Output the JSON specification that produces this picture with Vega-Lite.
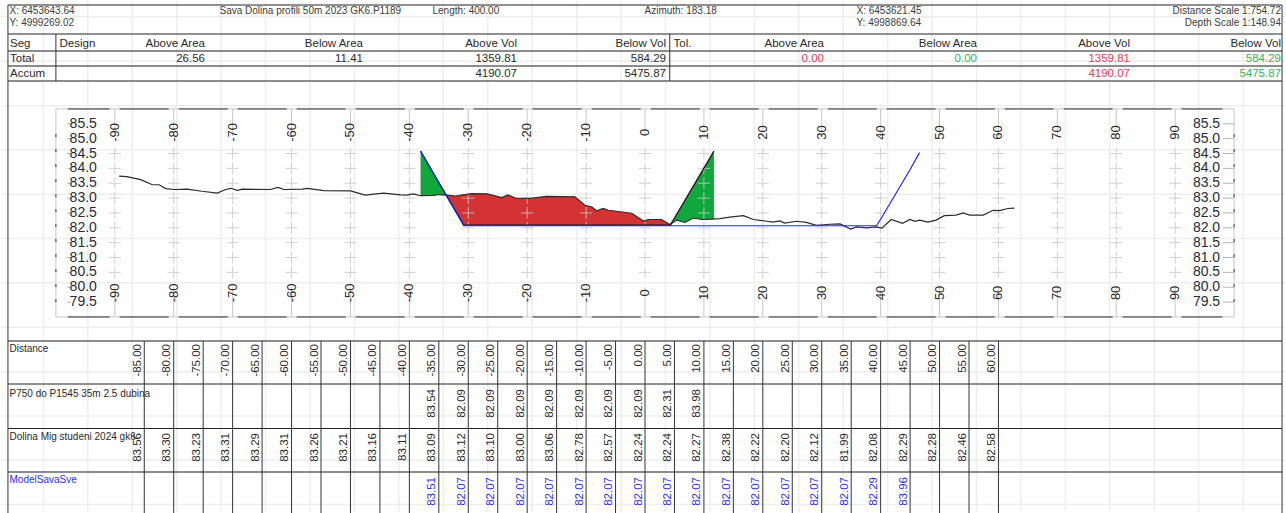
{"$schema":"https://vega.github.io/schema/vega-lite/v6.json","width":1286,"height":513,"autosize":{"type":"fit","contains":"padding"},"padding":0,"background":"white",
"config":{"view":{"stroke":null},"axis":{"disable":true},"legend":{"disable":true},"text":{"font":"Liberation Sans"}},
"resolve":{"scale":{"x":"independent","y":"independent","color":"independent"}},
"datasets":{
"gridX":[{"d":-102.12},{"d":-94.58},{"d":-87.03},{"d":-79.49},{"d":-71.95},{"d":-64.41},{"d":-56.86},{"d":-49.32},{"d":-41.78},{"d":-34.24},{"d":-26.69},{"d":-19.15},{"d":-11.61},{"d":-4.07},{"d":3.47},{"d":11.02},{"d":18.56},{"d":26.10},{"d":33.64},{"d":41.19},{"d":48.73},{"d":56.27},{"d":63.81},{"d":71.36},{"d":78.90},{"d":86.44},{"d":93.98},{"d":101.53}],
"gridY":[{"v":89.10},{"v":87.61},{"v":86.11},{"v":84.62},{"v":83.13},{"v":81.64},{"v":80.15},{"v":78.65},{"v":77.16},{"v":75.67},{"v":74.18},{"v":72.69}],
"box":[{"a":-100,"b":100,"u":86,"w":86},{"a":-100,"b":100,"u":79,"w":79},{"a":-100,"b":-100,"u":79,"w":86},{"a":100,"b":100,"u":79,"w":86}],
"edgesH":[{"a":-98,"b":98,"u":86},{"a":-98,"b":98,"u":79}],
"edgesV":[{"a":-100,"u":79.5,"w":85.27},{"a":100,"u":79.5,"w":85.27}],
"fills":[
{"part":"a","kind":"green","d":-38.1,"hi":84.58,"lo":83.09},{"part":"a","kind":"green","d":-35.9,"hi":83.83,"lo":83.09},{"part":"a","kind":"green","d":-35,"hi":83.52,"lo":83.12},{"part":"a","kind":"green","d":-33.75,"hi":83.10,"lo":83.10},
{"part":"b","kind":"red","d":-33.75,"hi":83.10,"lo":83.10},{"part":"b","kind":"red","d":-32.2,"hi":83.07,"lo":82.56},{"part":"b","kind":"red","d":-30.76,"hi":83.13,"lo":82.07},{"part":"b","kind":"red","d":-29.4,"hi":83.15,"lo":82.07},{"part":"b","kind":"red","d":-26.8,"hi":83.14,"lo":82.07},{"part":"b","kind":"red","d":-24.3,"hi":83.02,"lo":82.07},{"part":"b","kind":"red","d":-23.3,"hi":83.11,"lo":82.07},{"part":"b","kind":"red","d":-22,"hi":83.00,"lo":82.07},{"part":"b","kind":"red","d":-19.5,"hi":82.99,"lo":82.07},{"part":"b","kind":"red","d":-16.7,"hi":83.06,"lo":82.07},{"part":"b","kind":"red","d":-11.9,"hi":83.04,"lo":82.07},{"part":"b","kind":"red","d":-10.2,"hi":82.76,"lo":82.07},{"part":"b","kind":"red","d":-9,"hi":82.70,"lo":82.07},{"part":"b","kind":"red","d":-8.2,"hi":82.57,"lo":82.07},{"part":"b","kind":"red","d":-7.1,"hi":82.65,"lo":82.07},{"part":"b","kind":"red","d":-6.2,"hi":82.59,"lo":82.07},{"part":"b","kind":"red","d":-4.2,"hi":82.54,"lo":82.07},{"part":"b","kind":"red","d":-2.26,"hi":82.49,"lo":82.07},{"part":"b","kind":"red","d":-0.28,"hi":82.23,"lo":82.07},{"part":"b","kind":"red","d":0.57,"hi":82.28,"lo":82.07},{"part":"b","kind":"red","d":2.8,"hi":82.28,"lo":82.07},{"part":"b","kind":"red","d":4.24,"hi":82.11,"lo":82.07},{"part":"b","kind":"red","d":4.6,"hi":82.09,"lo":82.07},
{"part":"c","kind":"green","d":4.7,"hi":82.2,"lo":82.2},{"part":"c","kind":"green","d":5.4,"hi":82.44,"lo":82.26},{"part":"c","kind":"green","d":6.8,"hi":82.92,"lo":82.18},{"part":"c","kind":"green","d":8.2,"hi":83.39,"lo":82.33},{"part":"c","kind":"green","d":9.6,"hi":83.87,"lo":82.28},{"part":"c","kind":"green","d":11.3,"hi":84.44,"lo":82.29},{"part":"c","kind":"green","d":11.7,"hi":84.58,"lo":82.29}],
"crosses":[
{"d":-90,"v":84.5},{"d":-90,"v":84},{"d":-90,"v":83.5},{"d":-90,"v":83},{"d":-90,"v":82.5},{"d":-90,"v":82},{"d":-90,"v":81.5},{"d":-90,"v":81},{"d":-90,"v":80.5},
{"d":-80,"v":84.5},{"d":-80,"v":84},{"d":-80,"v":83.5},{"d":-80,"v":83},{"d":-80,"v":82.5},{"d":-80,"v":82},{"d":-80,"v":81.5},{"d":-80,"v":81},{"d":-80,"v":80.5},
{"d":-70,"v":84.5},{"d":-70,"v":84},{"d":-70,"v":83.5},{"d":-70,"v":83},{"d":-70,"v":82.5},{"d":-70,"v":82},{"d":-70,"v":81.5},{"d":-70,"v":81},{"d":-70,"v":80.5},
{"d":-60,"v":84.5},{"d":-60,"v":84},{"d":-60,"v":83.5},{"d":-60,"v":83},{"d":-60,"v":82.5},{"d":-60,"v":82},{"d":-60,"v":81.5},{"d":-60,"v":81},{"d":-60,"v":80.5},
{"d":-50,"v":84.5},{"d":-50,"v":84},{"d":-50,"v":83.5},{"d":-50,"v":83},{"d":-50,"v":82.5},{"d":-50,"v":82},{"d":-50,"v":81.5},{"d":-50,"v":81},{"d":-50,"v":80.5},
{"d":-40,"v":84.5},{"d":-40,"v":84},{"d":-40,"v":83.5},{"d":-40,"v":83},{"d":-40,"v":82.5},{"d":-40,"v":82},{"d":-40,"v":81.5},{"d":-40,"v":81},{"d":-40,"v":80.5},
{"d":-30,"v":84.5},{"d":-30,"v":84},{"d":-30,"v":83.5},{"d":-30,"v":83},{"d":-30,"v":82.5},{"d":-30,"v":82},{"d":-30,"v":81.5},{"d":-30,"v":81},{"d":-30,"v":80.5},
{"d":-20,"v":84.5},{"d":-20,"v":84},{"d":-20,"v":83.5},{"d":-20,"v":83},{"d":-20,"v":82.5},{"d":-20,"v":82},{"d":-20,"v":81.5},{"d":-20,"v":81},{"d":-20,"v":80.5},
{"d":-10,"v":84.5},{"d":-10,"v":84},{"d":-10,"v":83.5},{"d":-10,"v":83},{"d":-10,"v":82.5},{"d":-10,"v":82},{"d":-10,"v":81.5},{"d":-10,"v":81},{"d":-10,"v":80.5},
{"d":0,"v":84.5},{"d":0,"v":84},{"d":0,"v":83.5},{"d":0,"v":83},{"d":0,"v":82.5},{"d":0,"v":82},{"d":0,"v":81.5},{"d":0,"v":81},{"d":0,"v":80.5},
{"d":10,"v":84.5},{"d":10,"v":84},{"d":10,"v":83.5},{"d":10,"v":83},{"d":10,"v":82.5},{"d":10,"v":82},{"d":10,"v":81.5},{"d":10,"v":81},{"d":10,"v":80.5},
{"d":20,"v":84.5},{"d":20,"v":84},{"d":20,"v":83.5},{"d":20,"v":83},{"d":20,"v":82.5},{"d":20,"v":82},{"d":20,"v":81.5},{"d":20,"v":81},{"d":20,"v":80.5},
{"d":30,"v":84.5},{"d":30,"v":84},{"d":30,"v":83.5},{"d":30,"v":83},{"d":30,"v":82.5},{"d":30,"v":82},{"d":30,"v":81.5},{"d":30,"v":81},{"d":30,"v":80.5},
{"d":40,"v":84.5},{"d":40,"v":84},{"d":40,"v":83.5},{"d":40,"v":83},{"d":40,"v":82.5},{"d":40,"v":82},{"d":40,"v":81.5},{"d":40,"v":81},{"d":40,"v":80.5},
{"d":50,"v":84.5},{"d":50,"v":84},{"d":50,"v":83.5},{"d":50,"v":83},{"d":50,"v":82.5},{"d":50,"v":82},{"d":50,"v":81.5},{"d":50,"v":81},{"d":50,"v":80.5},
{"d":60,"v":84.5},{"d":60,"v":84},{"d":60,"v":83.5},{"d":60,"v":83},{"d":60,"v":82.5},{"d":60,"v":82},{"d":60,"v":81.5},{"d":60,"v":81},{"d":60,"v":80.5},
{"d":70,"v":84.5},{"d":70,"v":84},{"d":70,"v":83.5},{"d":70,"v":83},{"d":70,"v":82.5},{"d":70,"v":82},{"d":70,"v":81.5},{"d":70,"v":81},{"d":70,"v":80.5},
{"d":80,"v":84.5},{"d":80,"v":84},{"d":80,"v":83.5},{"d":80,"v":83},{"d":80,"v":82.5},{"d":80,"v":82},{"d":80,"v":81.5},{"d":80,"v":81},{"d":80,"v":80.5},
{"d":90,"v":84.5},{"d":90,"v":84},{"d":90,"v":83.5},{"d":90,"v":83},{"d":90,"v":82.5},{"d":90,"v":82},{"d":90,"v":81.5},{"d":90,"v":81},{"d":90,"v":80.5}],
"xTicks":[{"d":-90,"t":"-90"},{"d":-80,"t":"-80"},{"d":-70,"t":"-70"},{"d":-60,"t":"-60"},{"d":-50,"t":"-50"},{"d":-40,"t":"-40"},{"d":-30,"t":"-30"},{"d":-20,"t":"-20"},{"d":-10,"t":"-10"},{"d":0,"t":"0"},{"d":10,"t":"10"},{"d":20,"t":"20"},{"d":30,"t":"30"},{"d":40,"t":"40"},{"d":50,"t":"50"},{"d":60,"t":"60"},{"d":70,"t":"70"},{"d":80,"t":"80"},{"d":90,"t":"90"}],
"yTicks":[{"v":85.5},{"v":85},{"v":84.5},{"v":84},{"v":83.5},{"v":83},{"v":82.5},{"v":82},{"v":81.5},{"v":81},{"v":80.5},{"v":80},{"v":79.5}],
"curves":[
{"s":"terrain","d":-89.27,"v":83.74},{"s":"terrain","d":-87.96,"v":83.72},{"s":"terrain","d":-85.6,"v":83.62},{"s":"terrain","d":-83.62,"v":83.45},{"s":"terrain","d":-82.48,"v":83.45},{"s":"terrain","d":-81.36,"v":83.32},{"s":"terrain","d":-79.94,"v":83.29},{"s":"terrain","d":-77.7,"v":83.30},{"s":"terrain","d":-75.2,"v":83.23},{"s":"terrain","d":-72.6,"v":83.17},{"s":"terrain","d":-71.2,"v":83.29},{"s":"terrain","d":-70.3,"v":83.33},{"s":"terrain","d":-69.2,"v":83.26},{"s":"terrain","d":-68.3,"v":83.30},{"s":"terrain","d":-63.6,"v":83.29},{"s":"terrain","d":-62.3,"v":83.36},{"s":"terrain","d":-61.3,"v":83.29},{"s":"terrain","d":-58.2,"v":83.30},{"s":"terrain","d":-57.3,"v":83.33},{"s":"terrain","d":-54.5,"v":83.25},{"s":"terrain","d":-50,"v":83.24},{"s":"terrain","d":-47.5,"v":83.10},{"s":"terrain","d":-44.4,"v":83.17},{"s":"terrain","d":-41.5,"v":83.11},{"s":"terrain","d":-40.5,"v":83.10},{"s":"terrain","d":-39.3,"v":83.14},{"s":"terrain","d":-38.1,"v":83.08},{"s":"terrain","d":-35.9,"v":83.09},{"s":"terrain","d":-35,"v":83.12},{"s":"terrain","d":-33.6,"v":83.10},{"s":"terrain","d":-32.2,"v":83.07},{"s":"terrain","d":-29.4,"v":83.15},{"s":"terrain","d":-26.8,"v":83.14},{"s":"terrain","d":-24.3,"v":83.02},{"s":"terrain","d":-23.3,"v":83.11},{"s":"terrain","d":-22,"v":83.00},{"s":"terrain","d":-19.5,"v":82.99},{"s":"terrain","d":-16.7,"v":83.06},{"s":"terrain","d":-11.9,"v":83.04},{"s":"terrain","d":-10.2,"v":82.76},{"s":"terrain","d":-9,"v":82.70},{"s":"terrain","d":-8.2,"v":82.57},{"s":"terrain","d":-7.1,"v":82.65},{"s":"terrain","d":-6.2,"v":82.59},{"s":"terrain","d":-4.2,"v":82.54},{"s":"terrain","d":-2.26,"v":82.49},{"s":"terrain","d":-0.28,"v":82.23},{"s":"terrain","d":0.57,"v":82.28},{"s":"terrain","d":2.8,"v":82.28},{"s":"terrain","d":4.24,"v":82.11},{"s":"terrain","d":5.4,"v":82.26},{"s":"terrain","d":6.8,"v":82.18},{"s":"terrain","d":8.2,"v":82.33},{"s":"terrain","d":9.6,"v":82.28},{"s":"terrain","d":11.3,"v":82.29},{"s":"terrain","d":12.7,"v":82.31},{"s":"terrain","d":14.4,"v":82.36},{"s":"terrain","d":16.7,"v":82.41},{"s":"terrain","d":18.4,"v":82.28},{"s":"terrain","d":20.4,"v":82.23},{"s":"terrain","d":21.7,"v":82.19},{"s":"terrain","d":22.9,"v":82.23},{"s":"terrain","d":23.7,"v":82.16},{"s":"terrain","d":25.7,"v":82.22},{"s":"terrain","d":27.4,"v":82.18},{"s":"terrain","d":29.1,"v":82.08},{"s":"terrain","d":31.4,"v":82.12},{"s":"terrain","d":33.1,"v":82.13},{"s":"terrain","d":34.9,"v":81.96},{"s":"terrain","d":35.9,"v":82.03},{"s":"terrain","d":37.6,"v":82.00},{"s":"terrain","d":39.3,"v":82.03},{"s":"terrain","d":40.2,"v":81.99},{"s":"terrain","d":41.8,"v":82.28},{"s":"terrain","d":43.7,"v":82.15},{"s":"terrain","d":45,"v":82.28},{"s":"terrain","d":45.8,"v":82.22},{"s":"terrain","d":46.6,"v":82.26},{"s":"terrain","d":48,"v":82.19},{"s":"terrain","d":49.4,"v":82.26},{"s":"terrain","d":50.8,"v":82.41},{"s":"terrain","d":52.8,"v":82.43},{"s":"terrain","d":54,"v":82.50},{"s":"terrain","d":55.1,"v":82.43},{"s":"terrain","d":57.4,"v":82.43},{"s":"terrain","d":59.1,"v":82.59},{"s":"terrain","d":60.2,"v":82.58},{"s":"terrain","d":61.6,"v":82.65},{"s":"terrain","d":62.7,"v":82.66},
{"s":"design","d":-38.1,"v":84.58},{"s":"design","d":-30.76,"v":82.09},{"s":"design","d":4.3,"v":82.09},{"s":"design","d":11.7,"v":84.58},
{"s":"model","d":-38.1,"v":84.58},{"s":"model","d":-35,"v":83.51},{"s":"model","d":-30.76,"v":82.07},{"s":"model","d":39.3,"v":82.07},{"s":"model","d":40,"v":82.29},{"s":"model","d":45,"v":83.96},{"s":"model","d":46.6,"v":84.53}],
"framesDark":[{"level":1,"a":-108.14,"b":108.14},{"level":2,"a":-108.14,"b":108.14},{"level":7,"a":-108.14,"b":108.14},{"level":8,"a":-108.14,"b":108.14}],
"framesGrey":[{"level":3,"a":-108.14,"b":108.14},{"level":4,"a":-108.14,"b":108.14},{"level":5,"a":-108.14,"b":108.14},{"level":6,"a":-108.14,"b":108.14},{"level":9,"a":-108.14,"b":108.14}],
"framesV":[{"d":-108.14,"from":1,"to":10},{"d":108.14,"from":1,"to":10},{"d":-100,"from":2,"to":5},{"d":4.2,"from":2,"to":5},
{"d":-85,"from":6,"to":10},{"d":-80,"from":6,"to":10},{"d":-75,"from":6,"to":10},{"d":-70,"from":6,"to":10},{"d":-65,"from":6,"to":10},{"d":-60,"from":6,"to":10},{"d":-55,"from":6,"to":10},{"d":-50,"from":6,"to":10},{"d":-45,"from":6,"to":10},{"d":-40,"from":6,"to":10},{"d":-35,"from":6,"to":10},{"d":-30,"from":6,"to":10},{"d":-25,"from":6,"to":10},{"d":-20,"from":6,"to":10},{"d":-15,"from":6,"to":10},{"d":-10,"from":6,"to":10},{"d":-5,"from":6,"to":10},{"d":0,"from":6,"to":10},{"d":5,"from":6,"to":10},{"d":10,"from":6,"to":10},{"d":15,"from":6,"to":10},{"d":20,"from":6,"to":10},{"d":25,"from":6,"to":10},{"d":30,"from":6,"to":10},{"d":35,"from":6,"to":10},{"d":40,"from":6,"to":10},{"d":45,"from":6,"to":10},{"d":50,"from":6,"to":10},{"d":55,"from":6,"to":10},{"d":60,"from":6,"to":10}],
"strip":[{"col":1,"row":1,"t":"X: 6453643.64"},{"col":1,"row":2,"t":"Y: 4999269.02"},{"col":2,"row":1,"t":"Sava Dolina profili 50m 2023 GK6.P1189"},{"col":3,"row":1,"t":"Length: 400.00"},{"col":4,"row":1,"t":"Azimuth: 183.18"},{"col":5,"row":1,"t":"X: 6453621.45"},{"col":5,"row":2,"t":"Y: 4998869.64"}],
"stripRight":[{"row":1,"t":"Distance Scale 1:754.72"},{"row":2,"t":"Depth Scale 1:148.94"}],
"tableLeft":[{"col":1,"row":1,"t":"Seg"},{"col":2,"row":1,"t":"Design"},{"col":3,"row":1,"t":"Tol."},{"col":1,"row":2,"t":"Total"},{"col":1,"row":3,"t":"Accum"}],
"tableRight":[{"col":1,"row":1,"t":"Above Area","tone":"ink"},{"col":2,"row":1,"t":"Below Area","tone":"ink"},{"col":3,"row":1,"t":"Above Vol","tone":"ink"},{"col":4,"row":1,"t":"Below Vol","tone":"ink"},{"col":5,"row":1,"t":"Above Area","tone":"ink"},{"col":6,"row":1,"t":"Below Area","tone":"ink"},{"col":7,"row":1,"t":"Above Vol","tone":"ink"},{"col":8,"row":1,"t":"Below Vol","tone":"ink"},
{"col":1,"row":2,"t":"26.56","tone":"ink"},{"col":2,"row":2,"t":"11.41","tone":"ink"},{"col":3,"row":2,"t":"1359.81","tone":"ink"},{"col":4,"row":2,"t":"584.29","tone":"ink"},{"col":5,"row":2,"t":"0.00","tone":"red"},{"col":6,"row":2,"t":"0.00","tone":"green"},{"col":7,"row":2,"t":"1359.81","tone":"red"},{"col":8,"row":2,"t":"584.29","tone":"green"},
{"col":3,"row":3,"t":"4190.07","tone":"ink"},{"col":4,"row":3,"t":"5475.87","tone":"ink"},{"col":7,"row":3,"t":"4190.07","tone":"red"},{"col":8,"row":3,"t":"5475.87","tone":"green"}],
"rowNames":[{"row":1,"t":"Distance","tone":"ink"},{"row":2,"t":"P750 do P1545 35m 2.5 dubina","tone":"ink"},{"row":3,"t":"Dolina Mig studeni 2024 gk6","tone":"ink"},{"row":4,"t":"ModelSavaSve","tone":"blue"}],
"cells":[
{"d":-85,"row":1,"t":"-85.00","tone":"ink"},{"d":-80,"row":1,"t":"-80.00","tone":"ink"},{"d":-75,"row":1,"t":"-75.00","tone":"ink"},{"d":-70,"row":1,"t":"-70.00","tone":"ink"},{"d":-65,"row":1,"t":"-65.00","tone":"ink"},{"d":-60,"row":1,"t":"-60.00","tone":"ink"},{"d":-55,"row":1,"t":"-55.00","tone":"ink"},{"d":-50,"row":1,"t":"-50.00","tone":"ink"},{"d":-45,"row":1,"t":"-45.00","tone":"ink"},{"d":-40,"row":1,"t":"-40.00","tone":"ink"},{"d":-35,"row":1,"t":"-35.00","tone":"ink"},{"d":-30,"row":1,"t":"-30.00","tone":"ink"},{"d":-25,"row":1,"t":"-25.00","tone":"ink"},{"d":-20,"row":1,"t":"-20.00","tone":"ink"},{"d":-15,"row":1,"t":"-15.00","tone":"ink"},{"d":-10,"row":1,"t":"-10.00","tone":"ink"},{"d":-5,"row":1,"t":"-5.00","tone":"ink"},{"d":0,"row":1,"t":"0.00","tone":"ink"},{"d":5,"row":1,"t":"5.00","tone":"ink"},{"d":10,"row":1,"t":"10.00","tone":"ink"},{"d":15,"row":1,"t":"15.00","tone":"ink"},{"d":20,"row":1,"t":"20.00","tone":"ink"},{"d":25,"row":1,"t":"25.00","tone":"ink"},{"d":30,"row":1,"t":"30.00","tone":"ink"},{"d":35,"row":1,"t":"35.00","tone":"ink"},{"d":40,"row":1,"t":"40.00","tone":"ink"},{"d":45,"row":1,"t":"45.00","tone":"ink"},{"d":50,"row":1,"t":"50.00","tone":"ink"},{"d":55,"row":1,"t":"55.00","tone":"ink"},{"d":60,"row":1,"t":"60.00","tone":"ink"},
{"d":-35,"row":2,"t":"83.54","tone":"ink"},{"d":-30,"row":2,"t":"82.09","tone":"ink"},{"d":-25,"row":2,"t":"82.09","tone":"ink"},{"d":-20,"row":2,"t":"82.09","tone":"ink"},{"d":-15,"row":2,"t":"82.09","tone":"ink"},{"d":-10,"row":2,"t":"82.09","tone":"ink"},{"d":-5,"row":2,"t":"82.09","tone":"ink"},{"d":0,"row":2,"t":"82.09","tone":"ink"},{"d":5,"row":2,"t":"82.31","tone":"ink"},{"d":10,"row":2,"t":"83.98","tone":"ink"},
{"d":-85,"row":3,"t":"83.56","tone":"ink"},{"d":-80,"row":3,"t":"83.30","tone":"ink"},{"d":-75,"row":3,"t":"83.23","tone":"ink"},{"d":-70,"row":3,"t":"83.31","tone":"ink"},{"d":-65,"row":3,"t":"83.29","tone":"ink"},{"d":-60,"row":3,"t":"83.31","tone":"ink"},{"d":-55,"row":3,"t":"83.26","tone":"ink"},{"d":-50,"row":3,"t":"83.21","tone":"ink"},{"d":-45,"row":3,"t":"83.16","tone":"ink"},{"d":-40,"row":3,"t":"83.11","tone":"ink"},{"d":-35,"row":3,"t":"83.09","tone":"ink"},{"d":-30,"row":3,"t":"83.12","tone":"ink"},{"d":-25,"row":3,"t":"83.10","tone":"ink"},{"d":-20,"row":3,"t":"83.00","tone":"ink"},{"d":-15,"row":3,"t":"83.06","tone":"ink"},{"d":-10,"row":3,"t":"82.78","tone":"ink"},{"d":-5,"row":3,"t":"82.57","tone":"ink"},{"d":0,"row":3,"t":"82.24","tone":"ink"},{"d":5,"row":3,"t":"82.24","tone":"ink"},{"d":10,"row":3,"t":"82.27","tone":"ink"},{"d":15,"row":3,"t":"82.38","tone":"ink"},{"d":20,"row":3,"t":"82.22","tone":"ink"},{"d":25,"row":3,"t":"82.20","tone":"ink"},{"d":30,"row":3,"t":"82.12","tone":"ink"},{"d":35,"row":3,"t":"81.99","tone":"ink"},{"d":40,"row":3,"t":"82.08","tone":"ink"},{"d":45,"row":3,"t":"82.29","tone":"ink"},{"d":50,"row":3,"t":"82.28","tone":"ink"},{"d":55,"row":3,"t":"82.46","tone":"ink"},{"d":60,"row":3,"t":"82.58","tone":"ink"},
{"d":-35,"row":4,"t":"83.51","tone":"blue"},{"d":-30,"row":4,"t":"82.07","tone":"blue"},{"d":-25,"row":4,"t":"82.07","tone":"blue"},{"d":-20,"row":4,"t":"82.07","tone":"blue"},{"d":-15,"row":4,"t":"82.07","tone":"blue"},{"d":-10,"row":4,"t":"82.07","tone":"blue"},{"d":-5,"row":4,"t":"82.07","tone":"blue"},{"d":0,"row":4,"t":"82.07","tone":"blue"},{"d":5,"row":4,"t":"82.07","tone":"blue"},{"d":10,"row":4,"t":"82.07","tone":"blue"},{"d":15,"row":4,"t":"82.07","tone":"blue"},{"d":20,"row":4,"t":"82.07","tone":"blue"},{"d":25,"row":4,"t":"82.07","tone":"blue"},{"d":30,"row":4,"t":"82.07","tone":"blue"},{"d":35,"row":4,"t":"82.07","tone":"blue"},{"d":40,"row":4,"t":"82.29","tone":"blue"},{"d":45,"row":4,"t":"83.96","tone":"blue"}]
},
"layer":[
{"data":{"name":"gridX"},"mark":{"type":"rule","color":"#eeeeee","strokeWidth":1.5},"encoding":{"x":{"field":"d","type":"quantitative","scale":{"domain":[-109.32,108.64],"nice":false,"zero":false}}}},
{"data":{"name":"gridY"},"mark":{"type":"rule","color":"#eeeeee","strokeWidth":1.5},"encoding":{"y":{"field":"v","type":"quantitative","scale":{"domain":[72.436,89.633],"nice":false,"zero":false}}}},
{"data":{"name":"box"},"mark":{"type":"rule","color":"#c8c8c8","strokeWidth":1},"encoding":{"x":{"field":"a","type":"quantitative","scale":{"domain":[-109.32,108.64],"nice":false,"zero":false}},"x2":{"field":"b"},"y":{"field":"u","type":"quantitative","scale":{"domain":[72.436,89.633],"nice":false,"zero":false}},"y2":{"field":"w"}}},
{"data":{"name":"edgesH"},"mark":{"type":"rule","color":"#333333","strokeWidth":1,"strokeDash":[49,10],"strokeDashOffset":7},"encoding":{"x":{"field":"a","type":"quantitative","scale":{"domain":[-109.32,108.64],"nice":false,"zero":false}},"x2":{"field":"b"},"y":{"field":"u","type":"quantitative","scale":{"domain":[72.436,89.633],"nice":false,"zero":false}}}},
{"data":{"name":"edgesV"},"mark":{"type":"rule","color":"#333333","strokeWidth":1,"strokeDash":[3,12]},"encoding":{"x":{"field":"a","type":"quantitative","scale":{"domain":[-109.32,108.64],"nice":false,"zero":false}},"y":{"field":"u","type":"quantitative","scale":{"domain":[72.436,89.633],"nice":false,"zero":false}},"y2":{"field":"w"}}},
{"data":{"name":"fills"},"mark":{"type":"area","line":false},"encoding":{"x":{"field":"d","type":"quantitative","scale":{"domain":[-109.32,108.64],"nice":false,"zero":false}},"y":{"field":"hi","type":"quantitative","scale":{"domain":[72.436,89.633],"nice":false,"zero":false}},"y2":{"field":"lo"},"detail":{"field":"part"},"color":{"field":"kind","type":"nominal","scale":{"domain":["green","red"],"range":["#10a83c","#d43333"]}}}},
{"data":{"name":"crosses"},"mark":{"type":"point","shape":"M-1,0H1M0,-1V1","filled":false,"size":144,"strokeWidth":1,"color":"#c9c9c9","opacity":0.85},"encoding":{"x":{"field":"d","type":"quantitative","scale":{"domain":[-109.32,108.64],"nice":false,"zero":false}},"y":{"field":"v","type":"quantitative","scale":{"domain":[72.436,89.633],"nice":false,"zero":false}}}},
{"data":{"name":"xTicks"},"mark":{"type":"rule","color":"#c8c8c8","strokeWidth":1},"encoding":{"x":{"field":"d","type":"quantitative","scale":{"domain":[-109.32,108.64],"nice":false,"zero":false}},"y":{"datum":86,"type":"quantitative","scale":{"domain":[72.436,89.633],"nice":false,"zero":false}},"y2":{"datum":85.09}}},
{"data":{"name":"xTicks"},"mark":{"type":"rule","color":"#c8c8c8","strokeWidth":1},"encoding":{"x":{"field":"d","type":"quantitative","scale":{"domain":[-109.32,108.64],"nice":false,"zero":false}},"y":{"datum":79,"type":"quantitative","scale":{"domain":[72.436,89.633],"nice":false,"zero":false}},"y2":{"datum":80.0}}},
{"data":{"name":"xTicks"},"mark":{"type":"text","angle":270,"fontSize":13,"color":"#2a2a2a","align":"center","baseline":"middle"},"encoding":{"x":{"field":"d","type":"quantitative","scale":{"domain":[-109.32,108.64],"nice":false,"zero":false}},"y":{"datum":85.21,"type":"quantitative","scale":{"domain":[72.436,89.633],"nice":false,"zero":false}},"text":{"field":"t"}}},
{"data":{"name":"xTicks"},"mark":{"type":"text","angle":270,"fontSize":13,"color":"#2a2a2a","align":"center","baseline":"middle"},"encoding":{"x":{"field":"d","type":"quantitative","scale":{"domain":[-109.32,108.64],"nice":false,"zero":false}},"y":{"datum":79.81,"type":"quantitative","scale":{"domain":[72.436,89.633],"nice":false,"zero":false}},"text":{"field":"t"}}},
{"data":{"name":"yTicks"},"mark":{"type":"rule","color":"#b5b5b5","strokeWidth":1},"encoding":{"x":{"datum":-98.1,"type":"quantitative","scale":{"domain":[-109.32,108.64],"nice":false,"zero":false}},"x2":{"datum":-97.4},"y":{"field":"v","type":"quantitative","scale":{"domain":[72.436,89.633],"nice":false,"zero":false}}}},
{"data":{"name":"yTicks"},"mark":{"type":"rule","color":"#b5b5b5","strokeWidth":1},"encoding":{"x":{"datum":98.1,"type":"quantitative","scale":{"domain":[-109.32,108.64],"nice":false,"zero":false}},"x2":{"datum":100},"y":{"field":"v","type":"quantitative","scale":{"domain":[72.436,89.633],"nice":false,"zero":false}}}},
{"data":{"name":"yTicks"},"mark":{"type":"text","fontSize":14,"color":"#2a2a35","align":"right","baseline":"middle"},"encoding":{"x":{"datum":-93.05,"type":"quantitative","scale":{"domain":[-109.32,108.64],"nice":false,"zero":false}},"y":{"field":"v","type":"quantitative","scale":{"domain":[72.436,89.633],"nice":false,"zero":false}},"text":{"field":"v","type":"quantitative","format":".1f"}}},
{"data":{"name":"yTicks"},"mark":{"type":"text","fontSize":14,"color":"#2a2a35","align":"right","baseline":"middle"},"encoding":{"x":{"datum":97.63,"type":"quantitative","scale":{"domain":[-109.32,108.64],"nice":false,"zero":false}},"y":{"field":"v","type":"quantitative","scale":{"domain":[72.436,89.633],"nice":false,"zero":false}},"text":{"field":"v","type":"quantitative","format":".1f"}}},
{"data":{"name":"curves"},"mark":{"type":"line","strokeWidth":1.2,"interpolate":"linear"},"encoding":{"x":{"field":"d","type":"quantitative","scale":{"domain":[-109.32,108.64],"nice":false,"zero":false}},"y":{"field":"v","type":"quantitative","scale":{"domain":[72.436,89.633],"nice":false,"zero":false}},"color":{"field":"s","type":"nominal","scale":{"domain":["terrain","design","model"],"range":["#2b2b2b","#111111","#2626f5"]}},"order":{"field":"d","type":"quantitative"}}},
{"data":{"name":"framesDark"},"mark":{"type":"rule","color":"#222222","strokeWidth":1},"encoding":{"x":{"field":"a","type":"quantitative","scale":{"domain":[-109.32,108.64],"nice":false,"zero":false}},"x2":{"field":"b"},"y":{"field":"level","type":"quantitative","scale":{"domain":[1,2,3,4,5,6,7,8,9,10],"range":[4,33,50,65,80,340,383,427.5,471,513],"nice":false,"zero":false}}}},
{"data":{"name":"framesGrey"},"mark":{"type":"rule","color":"#666666","strokeWidth":1.5},"encoding":{"x":{"field":"a","type":"quantitative","scale":{"domain":[-109.32,108.64],"nice":false,"zero":false}},"x2":{"field":"b"},"y":{"field":"level","type":"quantitative","scale":{"domain":[1,2,3,4,5,6,7,8,9,10],"range":[4,33,50,65,80,340,383,427.5,471,513],"nice":false,"zero":false}}}},
{"data":{"name":"framesV"},"mark":{"type":"rule","color":"#333333","strokeWidth":1},"encoding":{"x":{"field":"d","type":"quantitative","scale":{"domain":[-109.32,108.64],"nice":false,"zero":false}},"y":{"field":"from","type":"quantitative","scale":{"domain":[1,2,3,4,5,6,7,8,9,10],"range":[4,33,50,65,80,340,383,427.5,471,513],"nice":false,"zero":false}},"y2":{"field":"to"}}},
{"data":{"name":"strip"},"mark":{"type":"text","fontSize":10,"color":"#3c3c3c","align":"left","baseline":"middle"},"encoding":{"x":{"field":"col","type":"quantitative","scale":{"domain":[1,2,3,4,5],"range":[8.5,218.5,431.5,643.5,855.5],"nice":false,"zero":false}},"y":{"field":"row","type":"quantitative","scale":{"domain":[1,2],"range":[10,22],"nice":false,"zero":false}},"text":{"field":"t"}}},
{"data":{"name":"stripRight"},"mark":{"type":"text","fontSize":10,"color":"#3c3c3c","align":"right","baseline":"middle"},"encoding":{"x":{"datum":1,"type":"quantitative","scale":{"domain":[0,1],"range":[0,1280],"nice":false,"zero":false}},"y":{"field":"row","type":"quantitative","scale":{"domain":[1,2],"range":[10,22],"nice":false,"zero":false}},"text":{"field":"t"}}},
{"data":{"name":"tableLeft"},"mark":{"type":"text","fontSize":11.5,"color":"#2a2a2a","align":"left","baseline":"middle"},"encoding":{"x":{"field":"col","type":"quantitative","scale":{"domain":[1,2,3],"range":[9,58.5,672.5],"nice":false,"zero":false}},"y":{"field":"row","type":"quantitative","scale":{"domain":[1,2,3],"range":[42.5,57.5,72.5],"nice":false,"zero":false}},"text":{"field":"t"}}},
{"data":{"name":"tableRight"},"mark":{"type":"text","fontSize":11.5,"align":"right","baseline":"middle"},"encoding":{"x":{"field":"col","type":"quantitative","scale":{"domain":[1,2,3,4,5,6,7,8],"range":[204,362,516,665,823,976,1129,1280],"nice":false,"zero":false}},"y":{"field":"row","type":"quantitative","scale":{"domain":[1,2,3],"range":[42.5,57.5,72.5],"nice":false,"zero":false}},"text":{"field":"t"},"color":{"field":"tone","type":"nominal","scale":{"domain":["ink","red","green"],"range":["#2a2a2a","#e23b55","#35b35c"]}}}},
{"data":{"name":"rowNames"},"mark":{"type":"text","fontSize":10,"align":"left","baseline":"middle"},"encoding":{"x":{"datum":1,"type":"quantitative","scale":{"domain":[0,1],"range":[0,8.5],"nice":false,"zero":false}},"y":{"field":"row","type":"quantitative","scale":{"domain":[1,2,3,4],"range":[348,392.5,436,479],"nice":false,"zero":false}},"text":{"field":"t"},"color":{"field":"tone","type":"nominal","scale":{"domain":["ink","blue"],"range":["#2a2a2a","#2f2ff0"]}}}},
{"data":{"name":"cells"},"mark":{"type":"text","fontSize":11.5,"angle":270,"align":"right","baseline":"middle"},"encoding":{"x":{"field":"d","type":"quantitative","scale":{"domain":[-108.22,109.74],"nice":false,"zero":false}},"y":{"field":"row","type":"quantitative","scale":{"domain":[1,2,3,4],"range":[343,388,432,476],"nice":false,"zero":false}},"text":{"field":"t"},"color":{"field":"tone","type":"nominal","scale":{"domain":["ink","blue"],"range":["#2a2a2a","#2f2ff0"]}}}}
]}
